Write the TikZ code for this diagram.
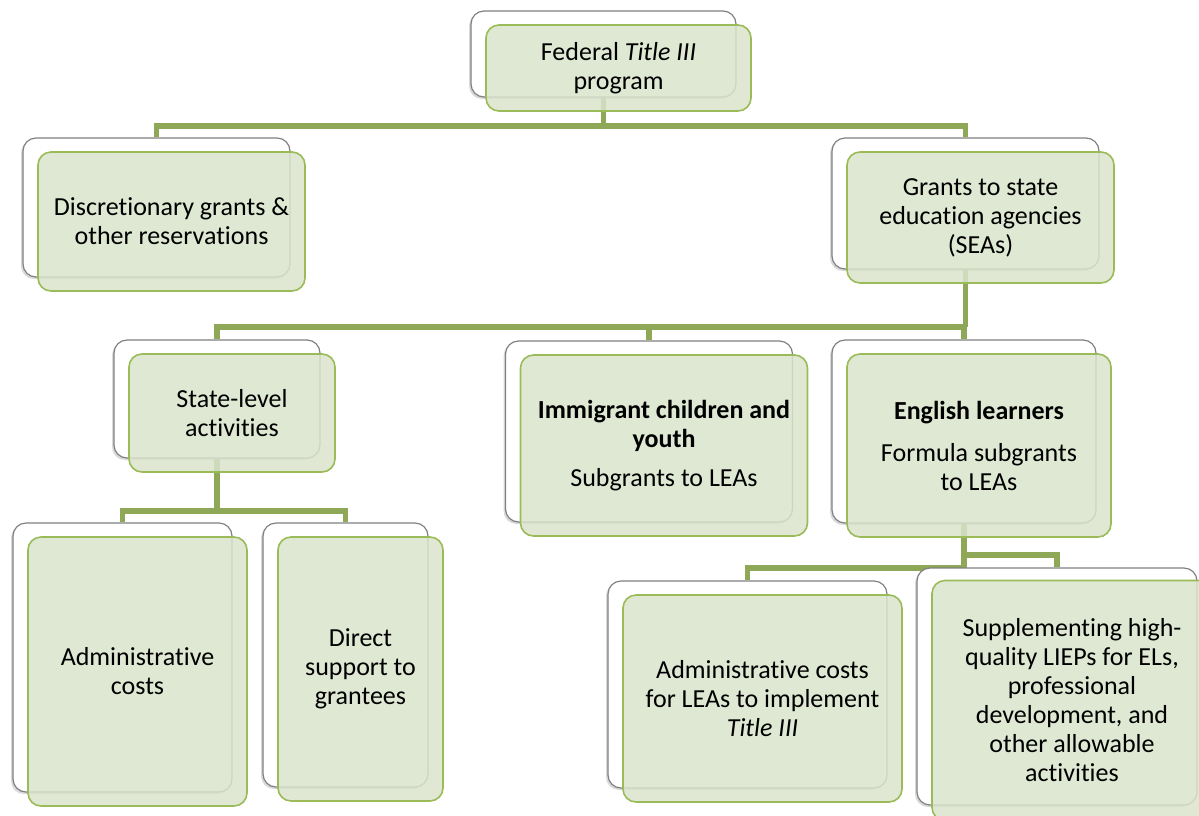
\documentclass[tikz,border=0pt]{standalone}
\usepackage{fontspec}
\setmainfont{Carlito}[Ligatures={NoCommon}]
\usetikzlibrary{positioning, shadows, backgrounds}
\definecolor{boxgreen}{HTML}{9BBB59}
\definecolor{boxfill}{HTML}{DAE4CC}
\definecolor{linkgreen}{HTML}{8EA858}
\definecolor{backgray}{HTML}{808080}

\begin{document}
\begin{tikzpicture}[
      x=1pt, y=-1pt, node distance=14pt and 15pt, on grid,
      every node/.style={font=\fontsize{26}{29}\selectfont, align=center, inner sep=2pt},
      back/.style={draw=backgray, line width=1.2pt, fill=white, rounded corners=13pt,
                   drop shadow={shadow xshift=-2pt, shadow yshift=-2pt, opacity=.3}},
      front/.style={draw=boxgreen, line width=1.6pt, fill=boxfill, fill opacity=.85,
                    text opacity=1, rounded corners=13pt},
      boxsize/.style 2 args={minimum width=#1pt, minimum height=#2pt},
      link/.style={draw=linkgreen, line width=5.5pt},
      ]

      \useasboundingbox (0,0) rectangle (1199,815);
      \clip (0,0) rectangle (1199,815);

      % top level
      \node[back, boxsize={265}{86}]   (fed-b) at (603.5,54)       {};
      \node[front, boxsize={265}{86}]  (fed) [below right=of fed-b] {Federal \textit{Title III}\\program};

      % second level
      \node[back, boxsize={267}{139}]  (disc-b) at (156.5,207.5)    {};
      \node[front, boxsize={267}{139}] (disc) [below right=of disc-b] {Discretionary grants \&\\other reservations};
      \node[back, boxsize={267}{131}]  (sea-b) at (965.5,203.5)     {};
      \node[front, boxsize={267}{131}] (sea) [below right=of sea-b] {Grants to state\\education agencies\\(SEAs)};

      % third level
      \node[back, boxsize={206}{118}]  (state-b) at (217,399)       {};
      \node[front, boxsize={206}{118}] (state) [below right=of state-b] {State-level\\activities};
      \node[back, boxsize={287}{181}]  (imm-b) at (649,431.5)       {};
      \node[front, boxsize={287}{181}] (imm) [below right=of imm-b]
            {\textbf{Immigrant children and}\\\textbf{youth}\\[10pt]Subgrants to LEAs};
      \node[back, boxsize={264}{183}]  (el-b) at (964,431.5)        {};
      \node[front, boxsize={264}{183}] (el) [below right=of el-b]
            {\textbf{English learners}\\[13pt]Formula subgrants\\to LEAs};

      % fourth level
      \node[back, boxsize={219}{269}]  (adm-b) at (122.5,657.5)     {};
      \node[front, boxsize={219}{269}] (adm) [below right=of adm-b] {Administrative\\costs};
      \node[back, boxsize={165}{264}]  (dir-b) at (345.5,655)       {};
      \node[front, boxsize={165}{264}] (dir) [below right=of dir-b] {Direct\\support to\\grantees};
      \node[back, boxsize={279}{207}]  (lea-b) at (747.5,684.5)     {};
      \node[front, boxsize={279}{207}] (lea) [below right=of lea-b]
            {Administrative costs\\for LEAs to implement\\\textit{Title III}};
      \node[back, boxsize={280}{237}]  (sup-b) at (1057,686.5)      {};
      \node[front, boxsize={280}{240}] (sup) [below right=of sup-b]
            {Supplementing high-\\quality LIEPs for ELs,\\professional\\development, and\\other allowable\\activities};

      \begin{scope}[on background layer]
        \draw[link] (disc-b.north) |- (sea-b.north |- 0,126) -- (sea-b.north);
        \draw[link] (fed-b.south) -- (fed-b.south |- 0,126);
        \draw[link] (state-b.north) |- (el-b.north |- 0,327) -- (el-b.north);
        \draw[link] (sea-b.south) -- (sea-b.south |- 0,327);
        \draw[link] (imm-b.north) -- (imm-b.north |- 0,327);
        \draw[link] (adm-b.north) |- (dir-b.north |- 0,511) -- (dir-b.north);
        \draw[link] (state-b.south) -- (state-b.south |- 0,511);
        \draw[link] (el-b.south) |- (lea-b.north |- 0,568) -- (lea-b.north);
        \draw[link] (el-b.south |- 0,555) -| (sup-b.north);
      \end{scope}
    \end{tikzpicture}
\end{document}
